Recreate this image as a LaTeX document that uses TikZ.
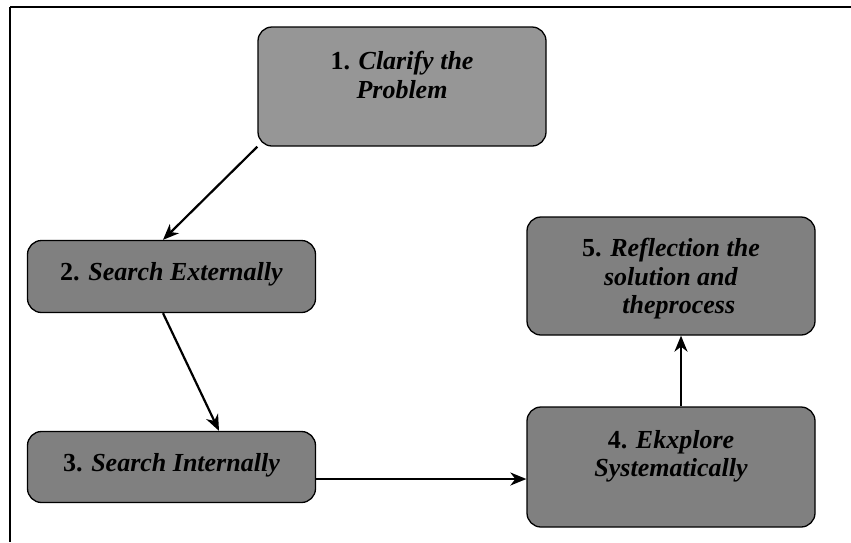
\documentclass[tikz,border=0pt]{standalone}
\usepackage{fontspec}
\setmainfont{Liberation Serif}
\usetikzlibrary{positioning,calc,arrows.meta}

\tikzset{
  stepbox/.style={draw, line width=1.3pt, rounded corners=14pt, fill=boxgray,
    minimum width=288pt, inner sep=0pt},
  steptext/.style={align=center, font=\fontsize{26}{28.5}\selectfont\bfseries},
  steparrow/.style={line width=2.2pt, -{Stealth[length=16pt,width=13pt,inset=5pt]}}
}
\definecolor{boxgray}{HTML}{808080}
\definecolor{lightgray}{HTML}{969696}

\begin{document}
\begin{tikzpicture}[x=1pt,y=-1pt]
    \useasboundingbox (0,0) rectangle (851,542);
    \draw[line width=2.5pt] (10,7) -- (851,7);
    \draw[line width=1.3pt] (10,7) -- (10,542);

    \node[stepbox, fill=lightgray, minimum height=119pt,
      label={[steptext, yshift=11.6pt]center:1. \textit{Clarify the}\\\textit{Problem}}]
      (clarify) at (402,86.5) {};
    \node[stepbox, minimum height=72pt,
      label={[steptext, yshift=2.6pt]center:2. \textit{Search Externally}}]
      (external) at (171.5,276.5) {};
    \node[stepbox, minimum height=71pt,
      label={[steptext, yshift=2.1pt]center:3. \textit{Search Internally}}]
      (internal) at (171.5,467) {};
    \node[stepbox, minimum height=120pt,
      label={[steptext, yshift=10.6pt]center:4. \textit{Ekxplore}\\\textit{Systematically}}]
      (explore) at (671,467) {};
    \node[stepbox, minimum height=118pt,
      label={[steptext, yshift=-2.9pt]center:5. \textit{Reflection the}\\\textit{solution and}\\\hspace*{0.6em}\textit{theprocess}}]
      (reflect) at (671,276) {};

    \draw[steparrow] (clarify.south west) -- ([xshift=-8.5pt]external.north);
    \draw[steparrow] ([xshift=-8.5pt]external.south) -- ([xshift=47.5pt]internal.north);
    \draw[steparrow] ([yshift=-12pt]internal.east) -- ([yshift=-12pt]explore.west);
    \draw[steparrow] ([xshift=10pt]explore.north) -- ([xshift=10pt]reflect.south);
\end{tikzpicture}
\end{document}
